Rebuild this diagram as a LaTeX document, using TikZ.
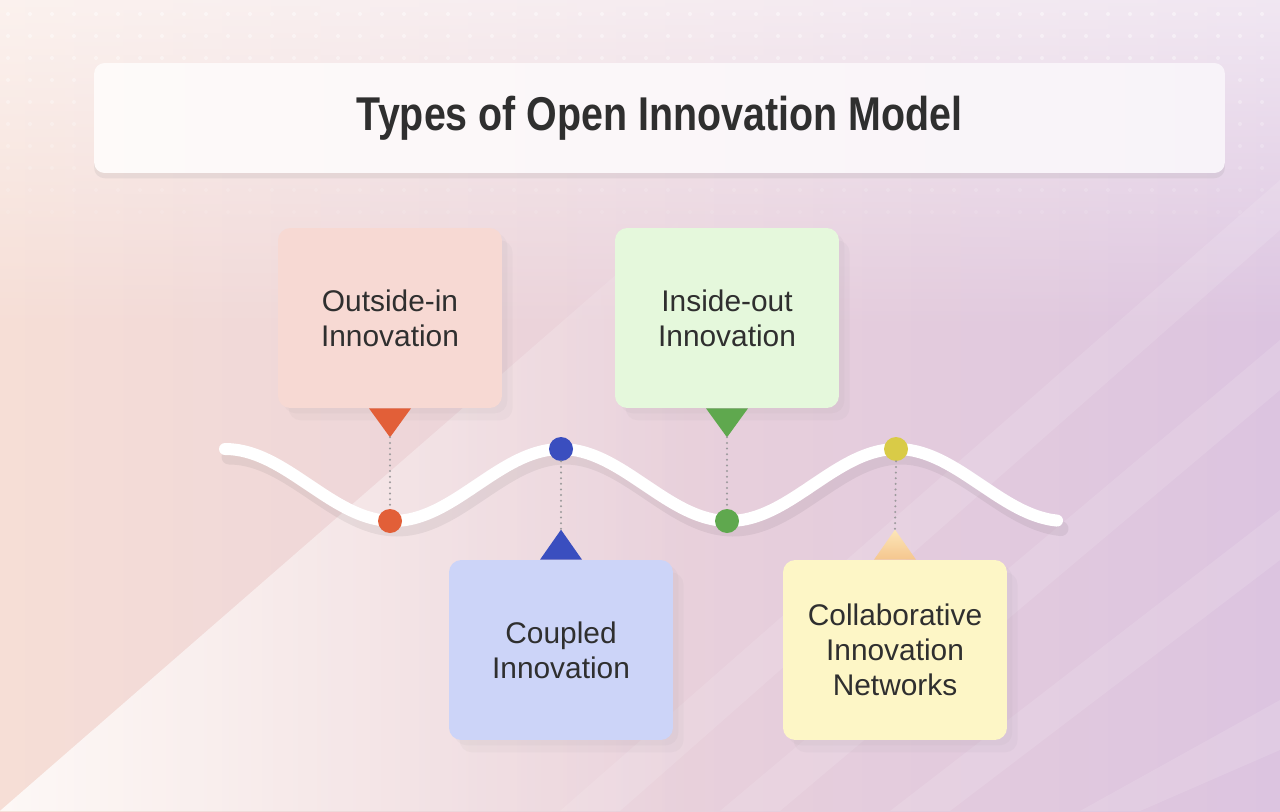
\documentclass[tikz,border=0pt]{standalone}
\usepackage{fontspec}
\setmainfont{Liberation Sans}
\newfontfamily\titlefont[FakeStretch=0.83]{Liberation Sans}
\usepackage{tikz}
\usetikzlibrary{calc,shadows,fadings}

\definecolor{bgpeach}{HTML}{F6DED6}
\definecolor{bgpink}{HTML}{EFD2D6}
\definecolor{bglav}{HTML}{DCC4E0}
\definecolor{inkgray}{HTML}{2F2F2F}
\definecolor{outfill}{HTML}{F7D9D3}
\definecolor{outred}{HTML}{E25F38}
\definecolor{insfill}{HTML}{E5F8DC}
\definecolor{insgreen}{HTML}{5FA84E}
\definecolor{coupfill}{HTML}{CCD4F8}
\definecolor{coupblue}{HTML}{3A4EBF}
\definecolor{collfill}{HTML}{FDF6C6}
\definecolor{collyellow}{HTML}{D9CB47}
\definecolor{pinlight}{HTML}{FCE6B8}
\definecolor{pindark}{HTML}{F5C68E}
\definecolor{dotgray}{HTML}{9C9A9C}

\tikzset{
  card/.style={rounded corners=7pt, minimum width=4.48cm, minimum height=3.6cm,
    align=center, text=inkgray, font=\fontsize{17}{20}\selectfont,
    drop shadow={opacity=0.05, shadow xshift=3pt, shadow yshift=-3pt},
    drop shadow={opacity=0.05, shadow xshift=6pt, shadow yshift=-7pt}},
  titlebox/.style={rounded corners=6pt, minimum width=22.62cm, minimum height=2.2cm,
    left color=white!85!bgpeach, right color=white!80!bglav, text=inkgray,
    font=\titlefont\bfseries\fontsize{27}{31}\selectfont,
    drop shadow={opacity=0.12, shadow xshift=0pt, shadow yshift=-3pt}},
  dot/.style={circle, inner sep=0pt, minimum size=0.48cm},
  wave/.style={white, line width=0.24cm, line cap=round},
  linkdots/.style={dotgray, line width=1.3pt, line cap=round, dash pattern=on 0pt off 3.2pt},
}

\begin{document}
\begin{tikzpicture}[x=0.02cm, y=-0.02cm]
  \useasboundingbox (0,0) rectangle (1280,811);
  % background
  \shade[left color=bgpeach, middle color=bgpink, right color=bglav] (0,0) rectangle (1280,811);
  \fill[white, opacity=0.6, path fading=south] (0,0) rectangle (1280,330);
  \fill[white, opacity=0.8, path fading=east] (0,811) -- (700,202) -- (700,811) -- cycle;
  \foreach \s in {0,160,330,520} {
    \fill[white, opacity=0.12] (560+\s,811) -- (1280,180+\s) -- (1280,230+\s) -- (620+\s,811) -- cycle;
  }
  \foreach \r in {1,...,10} {
    \foreach \c in {0,...,58} {
      \fill[white, opacity={0.5-0.04*\r}] (\c*22+8,\r*22-8) circle (2);
    }
  }

  % title
  \node[titlebox] (title) at (659.5,118) {Types of Open Innovation Model};

  % wave
  \draw[black, opacity=0.06, line width=0.3cm, line cap=round, shift={(4,8)}]
    plot[smooth, domain=225:1057, samples=120] (\x, {485-36*cos((\x-225)/336*360)});
  \draw[wave] plot[smooth, domain=225:1057, samples=120] (\x, {485-36*cos((\x-225)/336*360)});

  % cards
  \node[card, fill=outfill] (outin) at (390,318) {Outside-in\\Innovation};
  \node[card, fill=insfill] (insout) at (727,318) {Inside-out\\Innovation};
  \node[card, fill=coupfill] (coupled) at (561,650) {Coupled\\Innovation};
  \node[card, fill=collfill] (collab) at (895,650) {Collaborative\\Innovation\\Networks};

  % pins
  \coordinate (outtip) at ($(outin.south)+(0,29)$);
  \coordinate (instip) at ($(insout.south)+(0,29)$);
  \coordinate (couptip) at ($(coupled.north)+(0,-30)$);
  \coordinate (colltip) at ($(collab.north)+(0,-30)$);
  \fill[outred] ($(outin.south)+(-21,0)$) -- ($(outin.south)+(21,0)$) -- (outtip) -- cycle;
  \fill[insgreen] ($(insout.south)+(-21,0)$) -- ($(insout.south)+(21,0)$) -- (instip) -- cycle;
  \fill[coupblue] ($(coupled.north)+(-21,0)$) -- ($(coupled.north)+(21,0)$) -- (couptip) -- cycle;
  \shade[top color=pinlight, bottom color=pindark]
    ($(collab.north)+(-21,0)$) -- ($(collab.north)+(21,0)$) -- (colltip) -- cycle;

  % dots on the wave
  \node[dot, fill=outred] (dotout) at (390,521) {};
  \node[dot, fill=coupblue] (dotcoup) at (561,449) {};
  \node[dot, fill=insgreen] (dotins) at (727,521) {};
  \node[dot, fill=collyellow] (dotcoll) at (896,449) {};

  \draw[linkdots] (outtip) -- (dotout.north);
  \draw[linkdots] (instip) -- (dotins.north);
  \draw[linkdots] (dotcoup.south) -- (couptip);
  \draw[linkdots] (dotcoll.south) -- (colltip);
\end{tikzpicture}
\end{document}
